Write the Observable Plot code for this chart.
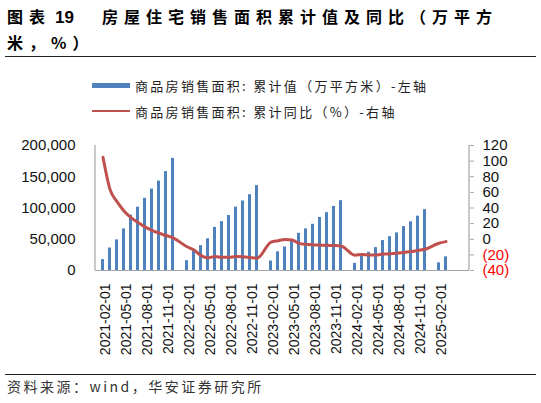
<!DOCTYPE html>
<html>
<head>
<meta charset="utf-8">
<script src="https://cdn.jsdelivr.net/npm/d3@7"></script>
<script src="https://cdn.jsdelivr.net/npm/@observablehq/plot@0.6"></script>
<style>
  body { margin: 0; background: #fff; }
  #page { position: relative; width: 541px; height: 403px; overflow: hidden; font-family: "Noto Sans CJK SC", sans-serif; }
  #title { position: absolute; left: 7px; top: 4px; font-size: 16px; font-weight: bold; letter-spacing: 6px; line-height: 24px; color: #000; white-space: nowrap; }
  #title .num { letter-spacing: 0; margin-left: 4px; margin-right: 28px; font-family: "Liberation Sans", Arial, sans-serif; font-size: 17px; }
  .rule { position: absolute; left: 5px; width: 531px; height: 0; border-top: 1.5px solid #222; }
  .legend-row { position: absolute; left: 92px; height: 18px; display: flex; align-items: center; font-size: 13px; letter-spacing: 2.3px; color: #222; }
  .swatch { width: 38px; margin-right: 5px; }
  #chart { position: absolute; left: 0; top: 130px; }
  #source { position: absolute; left: 7px; top: 376px; font-size: 14px; letter-spacing: 2.5px; color: #333; }
</style>
</head>
<body>
<div id="page">
  <div id="title">图表<span class="num">19</span>房屋住宅销售面积累计值及同比（万平方<br>米，%）</div>
  <div class="rule" style="top:56px"></div>
  <div class="legend-row" style="top:76px"><div class="swatch" style="height:5px;background:#4F81BD"></div>商品房销售面积: 累计值（万平方米）-左轴</div>
  <div class="legend-row" style="top:102px"><div class="swatch" style="height:2.5px;background:#C0504D"></div>商品房销售面积: 累计同比（%）-右轴</div>
  <div id="chart"></div>
  <div class="rule" style="top:374px"></div>
  <div id="source">资料来源：wind，华安证券研究所</div>
</div>
<script>
// months 2021-02 .. 2025-03 (January is folded into February, so those slots are empty)
const months = d3.utcMonth.range(new Date(Date.UTC(2021, 1, 1)), new Date(Date.UTC(2025, 3, 1)))
  .map(d3.utcFormat("%Y-%m-%d"));

// cumulative sales area, 万平方米
const area2021 = [17363, 36007, 48952, 66615, 88635, 101302, 115492, 130332, 143041, 158199, 179433];
const area2022 = [null, 15703, 31046, 39768, 50738, 68923, 78178, 87890, 101422, 111179, 121250, 135837];
const area2023 = [null, 15133, 29946, 37636, 46440, 59515, 66563, 73949, 84806, 92579, 102401, 111735];
const area2024 = [null, 11369, 22668, 29252, 36642, 47916, 54102, 60117, 70284, 77930, 86924, 97385];
const area2025 = [null, 12204, 21869];

// cumulative yoy, %
const yoy2021 = [104.9, 63.8, 48.1, 36.3, 27.7, 21.5, 15.9, 11.3, 7.9, 4.8, 1.9];
const yoy2022 = [null, -9.6, -13.8, -20.9, -23.6, -22.2, -23.1, -23.0, -22.2, -22.3, -23.3, -24.3];
const yoy2023 = [null, -3.6, -1.8, -0.4, -0.9, -5.3, -6.5, -7.1, -7.5, -7.8, -8.0, -8.5];
const yoy2024 = [null, -20.5, -19.4, -20.2, -20.3, -19.0, -18.6, -18.0, -17.1, -15.8, -14.3, -12.9];
const yoy2025 = [null, -5.1, -3.0];

const leftTicks = [0, 50000, 100000, 150000, 200000];
const rightTicks = [-40, -20, 0, 20, 40, 60, 80, 100, 120];

const area = [...area2021, ...area2022, ...area2023, ...area2024, ...area2025];
const yoy = [...yoy2021, ...yoy2022, ...yoy2023, ...yoy2024, ...yoy2025];

const rows = months.map((m, i) => ({ month: m, area: area[i], yoy: yoy[i] }));
const barRows = rows.filter((d) => d.area != null);
const lineRows = rows.filter((d) => d.yoy != null);

// right axis (-40..120) shares the left axis range (0..200000)
const yMax = 200000;
const toLeft = (v) => ((v - rightTicks[0]) / (rightTicks[rightTicks.length - 1] - rightTicks[0])) * yMax;
const fromLeft = (v) => Math.round(v / yMax * (rightTicks[rightTicks.length - 1] - rightTicks[0]) + rightTicks[0]);
const fmtRight = (v) => (v < 0 ? `(${-v})` : `${v}`);

const axisGray = "#a6a6a6";
const tickFont = "Liberation Sans, Arial, sans-serif";

// left and right axis lines
const axisLines = (index, scales, values, dims) => {
  const { width, marginLeft, marginRight } = dims;
  const y0 = scales.y(0), y1 = scales.y(yMax);
  const g = d3.create("svg:g").attr("stroke", axisGray).attr("stroke-width", 1.2);
  g.append("line").attr("x1", marginLeft).attr("x2", marginLeft).attr("y1", y0).attr("y2", y1);
  g.append("line").attr("x1", width - marginRight).attr("x2", width - marginRight).attr("y1", y0).attr("y2", y1);
  return g.node();
};

const chart = Plot.plot({
  width: 541,
  height: 240,
  marginLeft: 95,
  marginRight: 72,
  marginTop: 15,
  marginBottom: 100,
  style: { fontFamily: tickFont, fontSize: "15px", color: "#111", background: "transparent" },
  x: { type: "band", domain: months, paddingInner: 0.6, paddingOuter: 0.38, align: 0.21 },
  y: { domain: [0, yMax] },
  marks: [
    Plot.barY(barRows, { x: "month", y: "area", fill: "#4F81BD" }),
    Plot.ruleY([0], { stroke: axisGray, strokeWidth: 1.2 }),
    axisLines,
    Plot.line(lineRows, { x: "month", y: (d) => toLeft(d.yoy), stroke: "#C0504D", strokeWidth: 3, curve: "monotone-x" }),
    Plot.axisY({ anchor: "left", ticks: leftTicks, tickFormat: d3.format(","), tickSize: 0, tickPadding: 20, label: null }),
    Plot.axisY({ anchor: "right", ticks: rightTicks.map(toLeft), tickSize: 4, stroke: axisGray, text: null, label: null }),
    Plot.axisY({ anchor: "right", ticks: rightTicks.filter((v) => v >= 0).map(toLeft), tickSize: 0, tickPadding: 13,
      tickFormat: (v) => fmtRight(fromLeft(v)), textAnchor: "start", fill: "#111", label: null }),
    Plot.axisY({ anchor: "right", ticks: rightTicks.filter((v) => v < 0).map(toLeft), tickSize: 0, tickPadding: 13,
      tickFormat: (v) => fmtRight(fromLeft(v)), textAnchor: "start", fill: "#FF0000", label: null }),
    Plot.axisX({ ticks: months.filter((d, i) => i % 3 === 0), tickSize: 0, tickPadding: 13, tickRotate: -90,
      fontSize: 14, dx: 3, label: null })
  ]
});

document.getElementById("chart").appendChild(chart);
</script>
</body>
</html>
